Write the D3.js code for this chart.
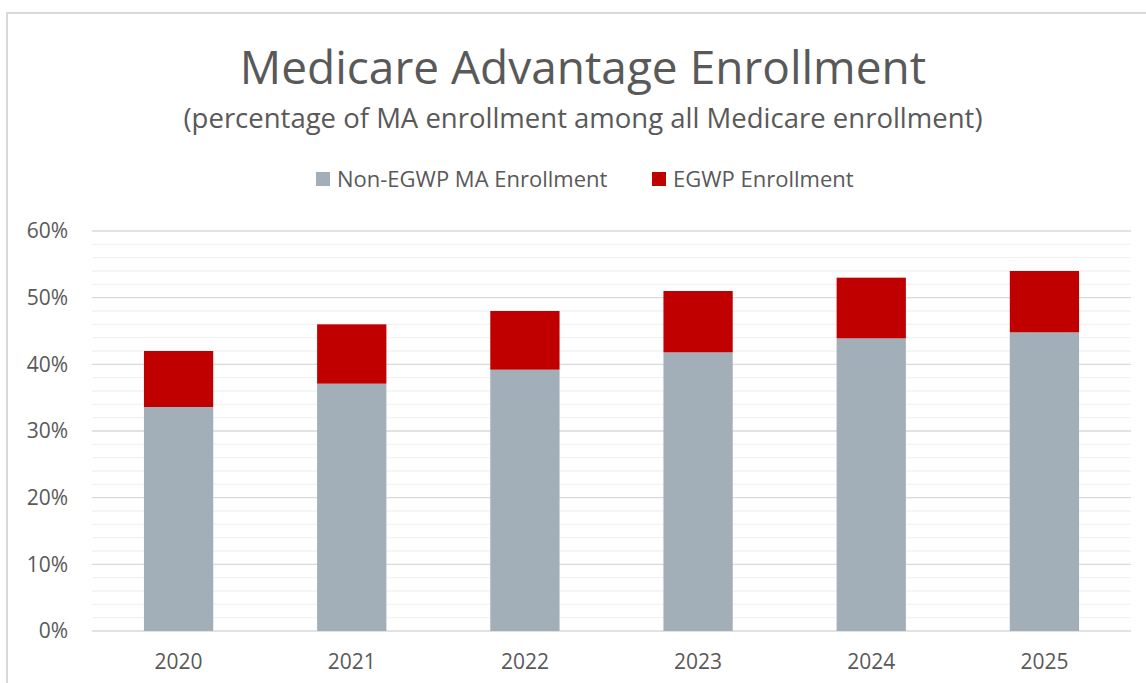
<!DOCTYPE html>
<html>
<head>
<meta charset="utf-8">
<script src="https://cdn.jsdelivr.net/npm/d3@7"></script>
<style>
  body { margin: 0; background: #fff; }
  text { font-family: "Open Sans", "Noto Sans", sans-serif; fill: #595959; }
</style>
</head>
<body>
<script>
var width = 1146, height = 683;

const years = ["2020", "2021", "2022", "2023", "2024", "2025"];
const nonEgwp = [33.6, 37.1, 39.2, 41.8, 43.9, 44.8];
const egwp = [8.4, 8.9, 8.8, 9.2, 9.1, 9.2];
const seriesNames = ["Non-EGWP MA Enrollment", "EGWP Enrollment"];
const colors = ["#a2afb9", "#c00000"];
const yTicks = [0, 10, 20, 30, 40, 50, 60];

var svg = d3.select("body").append("svg")
  .attr("width", width)
  .attr("height", height);

// chart border
svg.append("rect")
  .attr("x", 7).attr("y", 13)
  .attr("width", 1160).attr("height", 700)
  .attr("fill", "none").attr("stroke", "#d9d9d9").attr("stroke-width", 2);

var x = d3.scaleBand().domain(years).range([92, 1131]).paddingInner(0.6).paddingOuter(0.3);
var y = d3.scaleLinear().domain([0, 60]).range([631, 231]);

// minor gridlines
svg.append("g").selectAll("line")
  .data(d3.range(0, 61, 2).filter(d => d % 10 != 0))
  .enter().append("line")
  .attr("x1", 92).attr("x2", 1131)
  .attr("y1", d => y(d)).attr("y2", d => y(d))
  .attr("stroke", "#f2f2f2").attr("stroke-width", 1.3);

// major gridlines
svg.append("g").selectAll("line")
  .data(yTicks)
  .enter().append("line")
  .attr("x1", 92).attr("x2", 1131)
  .attr("y1", d => y(d)).attr("y2", d => y(d))
  .attr("stroke", "#d9d9d9").attr("stroke-width", 1.3);

// y labels
svg.append("g").selectAll("text")
  .data(yTicks)
  .enter().append("text")
  .attr("x", 68).attr("y", d => y(d))
  .attr("dy", "0.35em")
  .attr("text-anchor", "end")
  .style("font-size", "21px")
  .text(d => d + "%");

// x labels
svg.append("g").selectAll("text")
  .data(years)
  .enter().append("text")
  .attr("x", d => x(d) + x.bandwidth() / 2)
  .attr("y", 669)
  .attr("text-anchor", "middle")
  .style("font-size", "21px")
  .text(d => d);

var rows = years.map((yr, i) => ({ year: yr, non: nonEgwp[i], egwp: egwp[i] }));
var stack = d3.stack().keys(["non", "egwp"])(rows);

svg.append("g").selectAll("g")
  .data(stack)
  .enter().append("g")
  .attr("fill", (d, i) => colors[i])
  .selectAll("rect")
  .data(d => d)
  .enter().append("rect")
  .attr("x", d => x(d.data.year))
  .attr("width", x.bandwidth())
  .attr("y", d => y(d[1]))
  .attr("height", d => y(d[0]) - y(d[1]));

// titles
svg.append("text")
  .attr("x", 583).attr("y", 84)
  .attr("text-anchor", "middle")
  .style("font-size", "46px")
  .text("Medicare Advantage Enrollment");

svg.append("text")
  .attr("x", 583).attr("y", 128)
  .attr("text-anchor", "middle")
  .style("font-size", "27.5px")
  .text("(percentage of MA enrollment among all Medicare enrollment)");

// legend
var legend = svg.append("g");
var legX = [316, 652];
seriesNames.forEach((name, i) => {
  legend.append("rect")
    .attr("x", legX[i]).attr("y", 172)
    .attr("width", 14).attr("height", 14)
    .attr("fill", colors[i]);
  legend.append("text")
    .attr("x", legX[i] + 21).attr("y", 179)
    .attr("dy", "0.35em")
    .style("font-size", "22px")
    .text(name);
});
</script>
</body>
</html>
